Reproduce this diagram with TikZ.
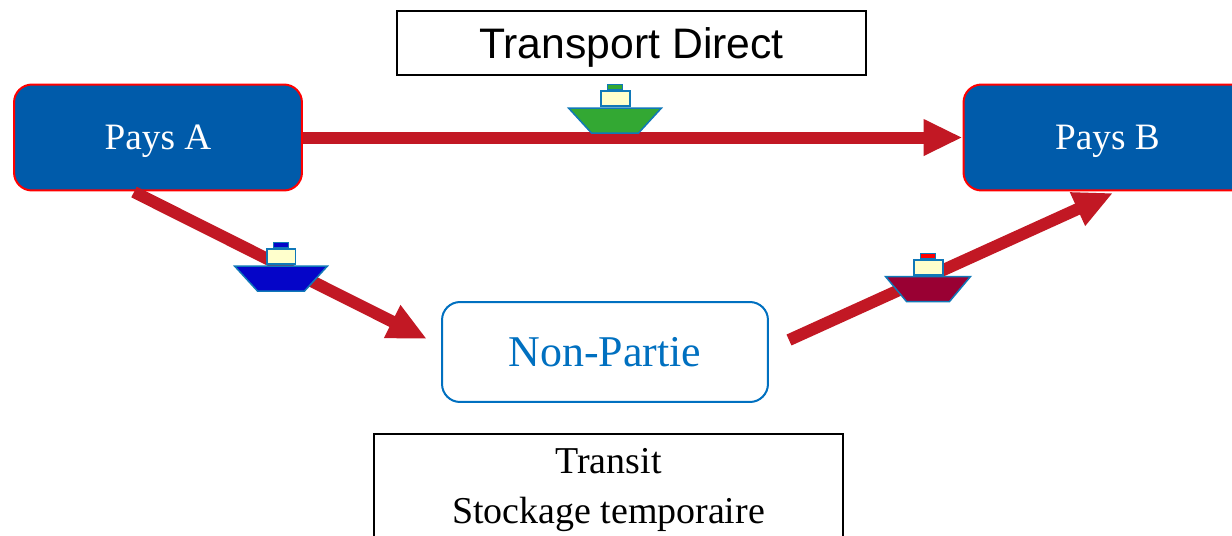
\documentclass[tikz,border=0pt]{standalone}
\usepackage{fontspec}
\setmainfont{Liberation Serif}
\setsansfont{Liberation Sans}
\usetikzlibrary{arrows.meta, positioning, shapes.geometric}
\definecolor{paysblue}{HTML}{005BAA}
\definecolor{partieblue}{HTML}{0070C0}
\definecolor{shipline}{HTML}{1078B8}
\definecolor{arrowred}{HTML}{C21824}
\definecolor{cabinfill}{HTML}{FFFFCC}
\definecolor{hullgreen}{HTML}{33A833}
\definecolor{hullblue}{HTML}{0505C8}
\definecolor{hullmaroon}{HTML}{990033}
\tikzset{
	pays/.style={rectangle, draw=red, fill=paysblue, text=white, line width=0.04cm, rounded corners=0.36cm, minimum width=5.76cm, minimum height=2.12cm, text depth=0pt, font=\fontsize{21.2}{26}\selectfont},
	partie/.style={rectangle, draw=partieblue, fill=white, text=partieblue, line width=0.04cm, rounded corners=0.36cm, minimum width=6.52cm, minimum height=2cm, font=\fontsize{25}{28}\selectfont},
	titlebox/.style={rectangle, draw=black, line width=0.03cm, align=center},
	hull/.style={trapezium, shape border rotate=180, trapezium left angle=62, trapezium right angle=62, trapezium stretches=true, draw=shipline, line width=0.03cm, inner sep=0pt, minimum width=1.86cm, minimum height=0.5cm},
	cabin/.style={rectangle, draw=shipline, fill=cabinfill, line width=0.04cm, inner sep=0pt, minimum width=0.58cm, minimum height=0.3cm},
	funnel/.style={rectangle, draw=shipline, line width=0.025cm, inner sep=0pt, minimum width=0.31cm, minimum height=0.1cm},
	route/.style={draw=arrowred, line width=0.24cm, -{Triangle[length=0.78cm, width=0.68cm]}}
}
\begin{document}
\begin{tikzpicture}[x=0.02cm, y=-0.02cm, node distance=0pt]
			\clip (0, 0) rectangle (1232, 535);
			\fill[white] (0, 0) rectangle (1232, 535);

			\node[pays] (PaysA) at (158, 137.5) {Pays A};
			\node[pays] (PaysB) at (1107.5, 137.5) {Pays B};
			\node[partie] (Partie) at (605, 352) {Non-Partie};
			\node[titlebox, minimum width=9.38cm, minimum height=1.28cm, text depth=0pt, font=\sffamily\fontsize{24.3}{28}\selectfont] (Direct) at (631.5, 43) {Transport Direct};
			\node[titlebox, minimum width=9.38cm, minimum height=2.24cm, font=\fontsize{21.6}{28.3}\selectfont] (Stock) at (608.5, 490) {Transit\\Stockage temporaire};

			\coordinate (S1) at (134, 192);
			\coordinate (E1) at (427, 339);
			\coordinate (S2) at (789, 340);
			\coordinate (E2) at (1113, 193);

			\draw[route] (PaysA) -- (PaysB);
			\draw[route] (S1) -- (E1);
			\draw[route] (S2) -- (E2);

			\node[hull, fill=hullgreen] (Hull1) at (615, 120.5) {\phantom{x}};
			\node[cabin, above=of Hull1] (Cab1) {};
			\node[funnel, fill=hullgreen, above=of Cab1] (Fun1) {};

			\node[hull, fill=hullblue] (Hull2) at (281, 278.5) {\phantom{x}};
			\node[cabin, above=of Hull2] (Cab2) {};
			\node[funnel, fill=hullblue, above=of Cab2] (Fun2) {};

			\node[hull, fill=hullmaroon, minimum width=1.7cm] (Hull3) at (928, 289) {\phantom{x}};
			\node[cabin, above=of Hull3] (Cab3) {};
			\node[funnel, fill=red, above=of Cab3] (Fun3) {};
		\end{tikzpicture}
\end{document}
